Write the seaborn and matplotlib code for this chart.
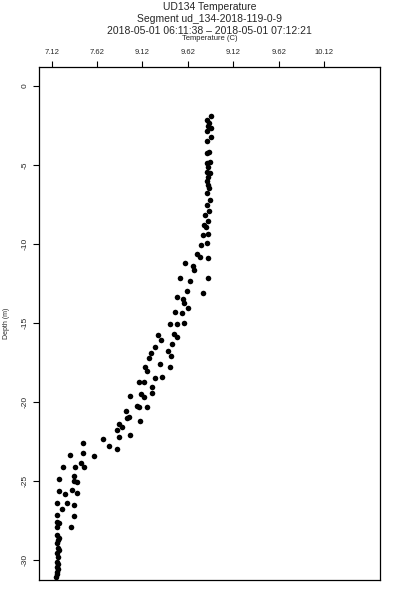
import matplotlib
matplotlib.use("Agg")
import matplotlib.pyplot as plt
import seaborn as sns
import pandas as pd

# ---- data ----
temperature = [
    8.878, 8.834, 8.856, 8.845, 8.880, 8.834, 8.871, 8.834, 8.856, 8.834,
    8.863, 8.834, 8.845, 8.834, 8.863, 8.845, 8.834, 8.845, 8.856, 8.834,
    8.869, 8.834, 8.856, 8.808, 8.841, 8.797, 8.819, 8.845, 8.790, 8.834,
    8.761, 8.717, 8.753, 8.841, 8.588, 8.679, 8.687, 8.533, 8.845, 8.643,
    8.613, 8.783, 8.497, 8.569, 8.577, 8.618, 8.478, 8.555, 8.423, 8.503,
    8.577, 8.467, 8.503, 8.291, 8.327, 8.445, 8.254, 8.404, 8.431, 8.210,
    8.192, 8.313, 8.423, 8.151, 8.173, 8.258, 8.338, 8.085, 8.133, 8.225,
    8.228, 8.107, 8.137, 7.986, 8.062, 8.085, 8.173, 7.944, 7.975, 7.946,
    8.092, 7.864, 7.891, 7.839, 7.858, 7.982, 7.682, 7.468, 7.754, 7.842,
    7.322, 7.461, 7.586, 7.241, 7.382, 7.439, 7.479, 7.204, 7.362, 7.366,
    7.402, 7.200, 7.269, 7.341, 7.396, 7.184, 7.285, 7.371, 7.231, 7.178,
    7.362, 7.182, 7.206, 7.175, 7.329, 7.182, 7.204, 7.195, 7.182, 7.193,
    7.204, 7.182, 7.193, 7.182, 7.193, 7.182, 7.189, 7.175, 7.182, 7.167,
]
depth = [
    -1.90, -2.18, -2.34, -2.53, -2.63, -2.82, -3.21, -3.46, -4.16, -4.24,
    -4.79, -4.89, -5.10, -5.42, -5.52, -5.74, -5.99, -6.26, -6.48, -6.74,
    -7.21, -7.56, -7.91, -8.16, -8.57, -8.79, -8.94, -9.36, -9.42, -9.95,
    -10.06, -10.66, -10.80, -10.90, -11.23, -11.42, -11.64, -12.16, -12.16, -12.33,
    -12.97, -13.11, -13.38, -13.49, -13.71, -14.02, -14.28, -14.38, -15.07, -15.04,
    -14.97, -15.69, -15.86, -15.75, -16.05, -16.34, -16.49, -16.74, -17.06, -16.91,
    -17.22, -17.60, -17.75, -17.79, -18.01, -18.50, -18.41, -18.70, -18.74, -19.06,
    -19.42, -19.48, -19.70, -19.61, -20.24, -20.32, -20.30, -20.54, -20.96, -21.00,
    -21.17, -21.41, -21.59, -21.79, -22.18, -22.06, -22.33, -22.56, -22.77, -22.96,
    -23.34, -23.23, -23.39, -24.10, -24.10, -23.83, -24.09, -24.88, -24.67, -24.97,
    -25.08, -25.65, -25.81, -25.55, -25.74, -26.36, -26.40, -26.49, -26.77, -27.17,
    -27.21, -27.58, -27.65, -27.91, -27.91, -28.40, -28.59, -28.75, -28.93, -29.24,
    -29.35, -29.56, -29.79, -30.09, -30.25, -30.41, -30.57, -30.72, -30.87, -31.04,
]
x_tick_values = [7.12, 7.62, 8.12, 8.62, 9.12, 9.62, 10.12]
x_tick_labels = ["7.12", "7.62", "9.12", "9.62", "9.12", "9.62", "10.12"]
y_tick_values = [0, -5, -10, -15, -20, -25, -30]
y_tick_labels = ["0", "-5", "-10", "-15", "-20", "-25", "-30"]
title_lines = ["UD134 Temperature",
               "Segment ud_134-2018-119-0-9",
               "2018-05-01 06:11:38 \u2013 2018-05-01 07:12:21"]
x_label = "Temperature (C)"
y_label = "Depth (m)"

df = pd.DataFrame({"Temperature": temperature, "Depth": depth})

sns.set_style("white")
plt.rcParams["font.family"] = ["Liberation Sans", "DejaVu Sans"]

W, H = 400, 600
fig = plt.figure(figsize=(4, 6), dpi=100)
left, right, top, bottom = 38.7, 380, 67.3, 580
ax = fig.add_axes([left / W, 1 - bottom / H, (right - left) / W, (bottom - top) / H])

sns.scatterplot(data=df, x="Temperature", y="Depth", ax=ax, color="black",
                s=16, linewidth=0, marker="o", legend=False)

ax.set_xlim(6.977, 10.736)
ax.set_ylim(-31.25, 1.18)

ax.xaxis.tick_top()
ax.set_xticks(x_tick_values)
ax.set_xticklabels(x_tick_labels)
ax.set_yticks(y_tick_values)
ax.set_yticklabels(y_tick_labels, rotation=90, va="center")
ax.set_xlabel("")
ax.set_ylabel("")

ax.tick_params(axis="x", which="both", top=True, bottom=False, labeltop=True,
               labelbottom=False, direction="out", length=4.3, width=0.8,
               labelsize=5.5, pad=3.5, color="black")
ax.tick_params(axis="y", which="both", left=True, direction="out", length=4.0,
               width=0.8, labelsize=6, pad=3.5, color="black")

for sp in ax.spines.values():
    sp.set_visible(True)
    sp.set_color("black")
    sp.set_linewidth(0.9)

cx = (left + right) / 2 / W
fig.text(cx, 1 - 9.5 / H, title_lines[0], ha="center", va="baseline", fontsize=7.5)
fig.text(cx, 1 - 21.5 / H, title_lines[1], ha="center", va="baseline", fontsize=7.5)
fig.text(cx, 1 - 33.5 / H, title_lines[2], ha="center", va="baseline", fontsize=7.5)
fig.text(cx, 1 - 40.5 / H, x_label, ha="center", va="baseline", fontsize=5.5)
fig.text(6 / W, 1 - (top + bottom) / 2 / H, y_label, ha="center", va="center",
         rotation=90, fontsize=5)

fig.savefig("out.png", dpi=100, facecolor="white")
